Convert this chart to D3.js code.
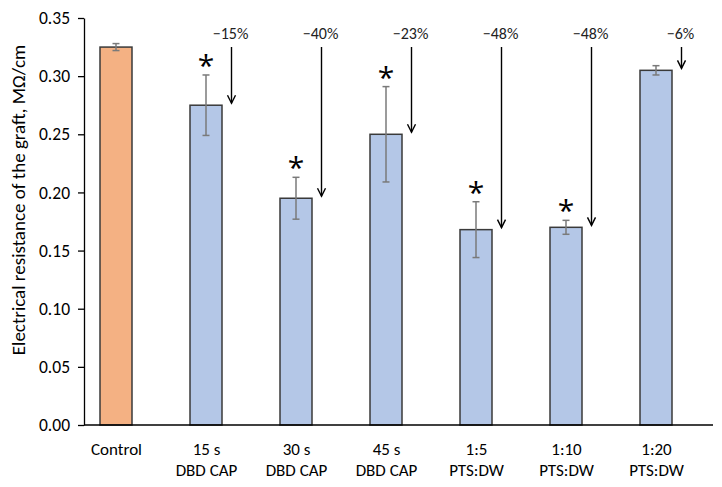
<!DOCTYPE html>
<html><head><meta charset="utf-8">
<script src="https://cdn.jsdelivr.net/npm/d3@7/dist/d3.min.js"></script>
<style>
body{margin:0;background:#fff;}
text{font-family:Carlito,Calibri,Lato,sans-serif;}
</style></head>
<body><svg id="c" width="722" height="487"></svg>
<script>
const categories = ["Control","15 s|DBD CAP","30 s|DBD CAP","45 s|DBD CAP","1:5|PTS:DW","1:10|PTS:DW","1:20|PTS:DW"];
const values = [0.325, 0.275, 0.195, 0.250, 0.168, 0.170, 0.305];
const errors = [0.003, 0.026, 0.018, 0.041, 0.024, 0.006, 0.004];
const significant = [false, true, true, true, true, true, false];
const changeLabels = [null, "−15%", "−40%", "−23%", "−48%", "−48%", "−6%"];
const yTicks = [0, 0.05, 0.10, 0.15, 0.20, 0.25, 0.30, 0.35];
const yTitle = "Electrical resistance of the graft, MΩ/cm";

const svg = d3.select("#c");
const x = d3.scalePoint().domain(categories).range([116, 656]);
const y = d3.scaleLinear().domain([0, 0.35]).range([425, 18]);
const bw = 32;

// y axis
const ya = svg.append("g").attr("transform","translate(84,0)")
  .call(d3.axisLeft(y).tickValues(yTicks).tickFormat(d3.format(".2f")).tickSize(6).tickPadding(8).tickSizeOuter(0));
ya.select(".domain").attr("stroke","#000").attr("stroke-width",1.3);
ya.selectAll(".tick line").attr("stroke","#000").attr("stroke-width",1.3);
ya.selectAll(".tick text").attr("font-size",17.5).attr("fill","#000")
  .style("font-family","Carlito,Calibri,Lato,sans-serif");

// bars
svg.append("g").selectAll("rect").data(categories).join("rect")
  .attr("x", d => x(d) - bw/2)
  .attr("y", (d,i) => y(values[i]))
  .attr("width", bw)
  .attr("height", (d,i) => y(0) - y(values[i]))
  .attr("fill", (d,i) => i === 0 ? "#F4B183" : "#B4C7E7")
  .attr("stroke", "#3a3a3a").attr("stroke-width", 1.5);

// x axis line
svg.append("line").attr("x1",84).attr("x2",713).attr("y1",y(0)).attr("y2",y(0))
  .attr("stroke","#000").attr("stroke-width",1.5);

// x labels
const xa = svg.append("g").attr("transform",`translate(0,${y(0)})`)
  .call(d3.axisBottom(x).tickSize(0).tickFormat(""));
xa.select(".domain").remove();
xa.selectAll(".tick").each(function(d){
  const parts = d.split("|");
  const t = d3.select(this).append("text").attr("text-anchor","middle").attr("font-size",17).attr("fill","#000");
  parts.forEach((p,k) => t.append("tspan").attr("x",0).attr("y", 30 + k*21).text(p));
});

// error bars
const eg = svg.append("g").attr("stroke","#7a7a7a").attr("stroke-width",1.5);
categories.forEach((c,i) => {
  const cx = x(c), t = y(values[i]+errors[i]), b = y(values[i]-errors[i]);
  eg.append("line").attr("x1",cx).attr("x2",cx).attr("y1",t).attr("y2",b);
  eg.append("line").attr("x1",cx-3.5).attr("x2",cx+3.5).attr("y1",t).attr("y2",t);
  eg.append("line").attr("x1",cx-3.5).attr("x2",cx+3.5).attr("y1",b).attr("y2",b);
});

// asterisks
svg.append("g").selectAll("text").data(categories.filter((c,i)=>significant[i])).join("text")
  .attr("x", d => x(d))
  .attr("y", d => { const i = categories.indexOf(d); return y(values[i]+errors[i]) + 1; })
  .attr("text-anchor","middle").attr("font-size",30).attr("fill","#000")
  .style("font-family","'Open Sans',sans-serif").text("*");

// arrows + labels
const ag = svg.append("g");
categories.forEach((c,i) => {
  if (!changeLabels[i]) return;
  const ax = x(c) + 25.5, top = 47, tip = y(values[i]) - 2;
  ag.append("line").attr("x1",ax).attr("x2",ax).attr("y1",top).attr("y2",tip).attr("stroke","#000").attr("stroke-width",1.4);
  ag.append("path").attr("d",`M${ax-4},${tip-8}L${ax},${tip}L${ax+4},${tip-8}`)
    .attr("fill","none").attr("stroke","#000").attr("stroke-width",1.4);
  ag.append("text").attr("x",ax-1).attr("y",39).attr("text-anchor","middle")
    .attr("font-size",16).attr("fill","#222").text(changeLabels[i]);
});

// y title
svg.append("text").attr("transform","translate(25,200) rotate(-90)")
  .attr("text-anchor","middle").attr("font-size",19).attr("fill","#000").text(yTitle);
</script></body></html>
